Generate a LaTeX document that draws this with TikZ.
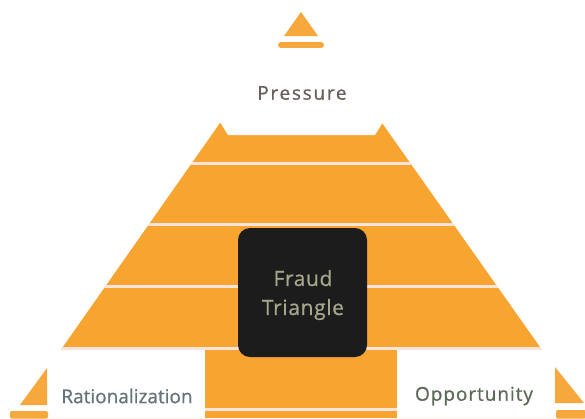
\documentclass[tikz,border=0pt]{standalone}
\usepackage{fontspec}
\setmainfont{Open Sans}
\definecolor{orangemain}{RGB}{248,164,48}
\definecolor{iconorange}{RGB}{246,168,60}
\definecolor{stripecol}{RGB}{252,228,222}
\definecolor{boxdark}{RGB}{28,28,28}
\definecolor{fraudtext}{RGB}{166,166,140}
\definecolor{presscol}{RGB}{106,94,90}
\definecolor{ratcol}{RGB}{102,116,122}
\definecolor{oppcol}{RGB}{92,106,88}
\begin{document}
\begin{tikzpicture}[x=1pt,y=-1pt,
  orangefill/.style={fill=orangemain},
  stripe/.style={draw=stripecol,line width=3pt},
  whitebox/.style={fill=white,draw=none},
  label/.style={font=\fontsize{19}{22}\selectfont\addfontfeature{FakeBold=0.8},inner sep=0pt},
  icon/.style={fill=iconorange,draw=none}]
\useasboundingbox (0,0) rectangle (585,418);
\fill[white] (0,0) rectangle (585,418);
% main orange truncated triangle
\begin{scope}
\clip (0,0) rectangle (585,418);
\path[orangefill] (220,123) -- (382,123) -- (590,418) -- (13,418) -- cycle;
\clip (220,123) -- (382,123) -- (590,418) -- (13,418) -- cycle;
\foreach \yy in {163,224,286,348,409} \draw[stripe] (0,\yy) -- (585,\yy);
\end{scope}
% white label panels
\path[whitebox] (220,45) -- (383,45) -- (383,122) -- (375,135) -- (228,135) -- (220,122) -- cycle;
\path[whitebox] (0,349.5) rectangle (205,418);
\path[whitebox] (397,349.5) rectangle (585,418);
% centre box
\node[fill=boxdark,rounded corners=12pt,minimum width=129pt,minimum height=129pt,inner sep=0pt] (fraud) at (302.5,292.5) {};
\node[label,text=fraudtext,align=center,font=\fontsize{21}{29}\selectfont\addfontfeature{LetterSpace=3,FakeBold=0.6}] (fraudtxt) at (303,295) {Fraud\\Triangle};
% labels
\node[label,text=presscol,font=\fontsize{19}{22}\selectfont\addfontfeature{LetterSpace=9,FakeBold=0.8}] (pressure) at (302,93) {Pressure};
\node[label,text=ratcol] (rational) at (127,396) {Rationalization};
\node[label,text=oppcol,font=\fontsize{19}{22}\selectfont\addfontfeature{LetterSpace=5,FakeBold=0.8}] (opportunity) at (474,396) {Opportunity};
% icons
\path[icon] (284,36) -- (301,12) -- (318,36) -- cycle;
\draw[iconorange,line width=6pt,line cap=round] (281,45) -- (321,45);
\path[icon] (20,405) -- (47,368) -- (47,405) -- cycle;
\path[icon,rounded corners=2pt] (10,418.5) -- (10,411) -- (48,411) -- (48,418.5) -- cycle;
\path[icon] (555,367) -- (584,403) -- (555,403) -- cycle;
\path[icon,rounded corners=2pt] (556,418.5) -- (556,410) -- (586,410) -- (586,418.5) -- cycle;
\end{tikzpicture}
\end{document}
